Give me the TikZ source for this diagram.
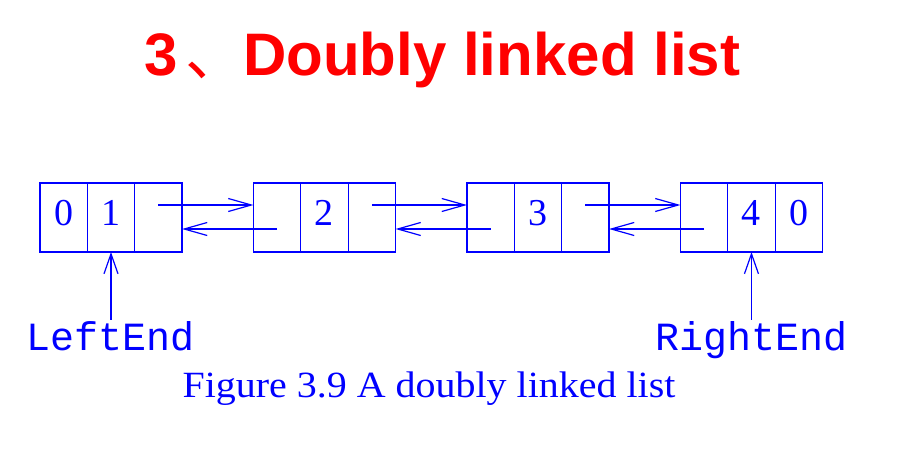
\documentclass[tikz,border=0pt]{standalone}
\usepackage{fontspec}
\setmainfont{Liberation Serif}
\setsansfont{Liberation Sans}
\setmonofont{Liberation Mono}
\newfontfamily\cjk{Noto Sans CJK SC}
\newfontfamily\capfont[FakeStretch=1.08]{Liberation Serif}
\usetikzlibrary{positioning,arrows.meta}

\tikzstyle{cell} =[draw=blue, line width=1.2pt, outer sep=0pt, inner sep=0pt,
minimum width=47.33pt, minimum height=69pt, text=blue,
text height=26pt, text depth=9.4pt, font=\fontsize{38}{40}\selectfont]
\tikzstyle{link} =[draw=blue, line width=1.2pt,
-{Straight Barb[length=23pt,width=13pt]}]
\tikzstyle{tag} =[text=blue, anchor=base, inner xsep=0pt, inner ysep=8pt,
text height=22pt, text depth=0pt, font=\ttfamily\fontsize{40}{44}\selectfont]

\begin{document}
\begin{tikzpicture}[x=1pt,y=-1pt, node distance=0pt]
\useasboundingbox (0,0) rectangle (908,460);

\node[anchor=base, text=red, font=\sffamily\bfseries\fontsize{60}{72}\selectfont]
	(title) at (442.5,75) {3\kern7pt{\cjk\mdseries 、}\kern-2pt Doubly linked list};

\node[cell] (a1) at (63.67,217.5) {0};
\node[cell, right=of a1] (a2) {1};
\node[cell, right=of a2] (a3) {};

\node[cell, right=71.5pt of a3] (b1) {};
\node[cell, right=of b1] (b2) {2};
\node[cell, right=of b2] (b3) {};

\node[cell, right=71.5pt of b3] (c1) {};
\node[cell, right=of c1] (c2) {3};
\node[cell, right=of c2] (c3) {};

\node[cell, right=71.5pt of c3] (d1) {};
\node[cell, right=of d1] (d2) {4};
\node[cell, right=of d2] (d3) {0};

\draw[link] ([yshift=12.5pt]a3.center) -- ([yshift=12.5pt]b1.west);
\draw[link] ([yshift=-11.5pt]b1.center) -- ([yshift=-11.5pt]a3.east);
\draw[link] ([yshift=12.5pt]b3.center) -- ([yshift=12.5pt]c1.west);
\draw[link] ([yshift=-11.5pt]c1.center) -- ([yshift=-11.5pt]b3.east);
\draw[link] ([yshift=12.5pt]c3.center) -- ([yshift=12.5pt]d1.west);
\draw[link] ([yshift=-11.5pt]d1.center) -- ([yshift=-11.5pt]c3.east);

\node[tag] (left) at (a2.center |- 0,350) {LeftEnd};
\node[tag] (right) at (d2.center |- 0,350) {RightEnd};
\draw[link, -{Straight Barb[length=20pt,width=14pt]}] (left.north) -- (a2.south);
\draw[link, -{Straight Barb[length=20pt,width=14pt]}] (right.north) -- (d2.south);

\node[anchor=base, text=blue, font=\capfont\fontsize{37}{40}\selectfont]
	(caption) at (429,397) {Figure 3.9 A doubly linked list};
\end{tikzpicture}
\end{document}
